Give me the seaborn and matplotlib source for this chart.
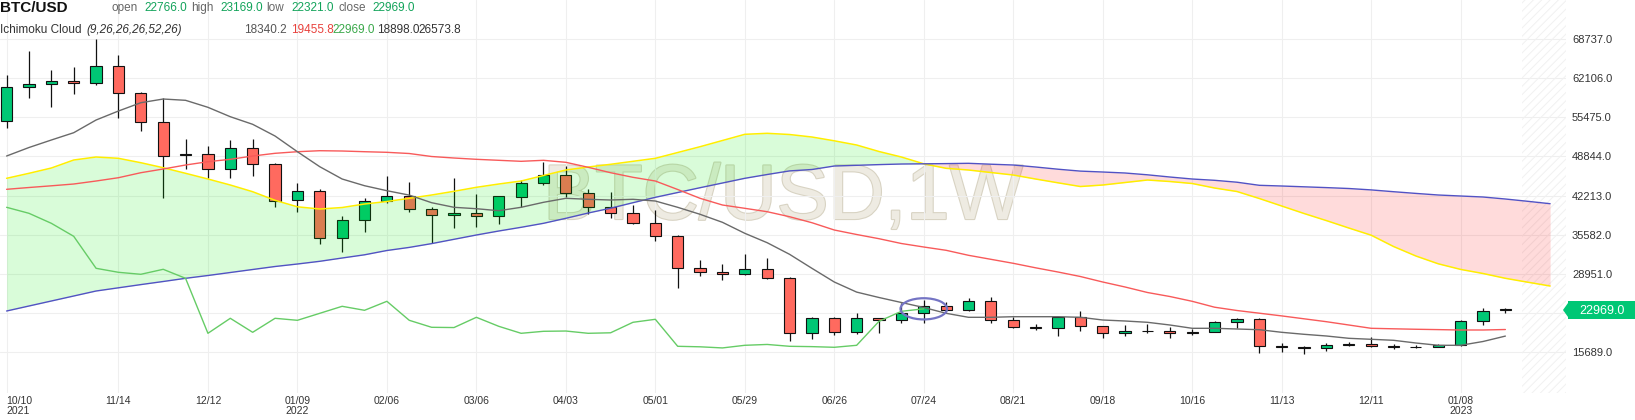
import numpy as np
import pandas as pd
import matplotlib
matplotlib.use("Agg")
import matplotlib.pyplot as plt
import seaborn as sns
from matplotlib.patches import Ellipse, Polygon
import matplotlib.patheffects as pe

# ---------------- data ----------------
weeks = pd.date_range("2021-10-10", periods=68, freq="7D")

opens = [54811, 60584, 61094, 61603, 61263, 64201, 59616, 54641, 49089, 49208,
         46661, 50226, 47510, 41397, 42925, 34944, 38001, 41227, 42076, 39869,
         38850, 39189, 38680, 41906, 44283, 45642, 42585, 40208, 39189, 37491,
         35284, 29850, 29171, 28832, 29681, 28152, 18813, 21360, 18983, 21360,
         21021, 22209, 23398, 22719, 24247, 21021, 19832, 19790, 21530, 20002,
         18813, 19153, 19153, 18990, 18983, 20681, 21191, 16606, 16440, 16266,
         16776, 16946, 16606, 16550, 16437, 16776, 20851, 22766]
highs = [62672, 66748, 63471, 63980, 68735, 66018, 59786, 58818, 51755, 50566,
         51585, 51755, 47680, 44283, 43265, 38680, 41736, 45574, 44453, 40209,
         45132, 42416, 42200, 44793, 47849, 47170, 43265, 42755, 40548, 39699,
         35500, 31209, 30530, 32228, 31548, 28322, 21632, 21632, 22209, 21450,
         23907, 24417, 24077, 24756, 24926, 21530, 20342, 21700, 22549, 20050,
         20172, 20342, 19832, 19493, 20851, 21360, 21360, 17115, 16606, 17115,
         17285, 18134, 16946, 16800, 16946, 21020, 23058, 23169]
lows = [53724, 58818, 57290, 59396, 60975, 55422, 53215, 41838, 46661, 45234,
        45234, 45472, 40310, 39461, 33926, 32669, 36065, 41000, 39359, 34095,
        36744, 36914, 37322, 40310, 43944, 41906, 39020, 38340, 37300, 34537,
        26454, 28492, 27813, 28662, 27983, 17455, 17795, 18474, 18644, 18813,
        20511, 20511, 22379, 22549, 20511, 19662, 19323, 18304, 19153, 17964,
        18304, 18813, 17964, 18474, 18950, 19662, 15417, 15587, 15247, 15757,
        16606, 16437, 16096, 16266, 16437, 16700, 20172, 22321]
closes = [60584, 61146, 61603, 61263, 64201, 59565, 54641, 48970, 49174, 46661,
          50226, 47510, 41329, 42925, 34944, 38001, 41227, 42076, 39869, 38850,
          39189, 38680, 42076, 44283, 45642, 42585, 40208, 39189, 37491, 35284,
          29850, 29171, 28832, 29681, 28152, 18813, 21360, 18983, 21360, 21021,
          22209, 23398, 22719, 24247, 21021, 19832, 19790, 21530, 20002, 18813,
          19153, 19200, 18813, 18900, 20681, 21191, 16606, 16520, 16330, 16776,
          16920, 16606, 16550, 16437, 16776, 20851, 22549, 22969]

# Ichimoku lines
tenkan = [48919, 50362, 51636, 52875, 55032, 56560, 57969, 58597, 58377, 57188,
          55592, 54302, 52315, 49649, 47102, 45013, 43876, 43027, 42280, 40989,
          40208, 39970, 39631, 40208, 41057, 41736, 41567, 41448, 41567, 41278,
          40208, 39020, 37661, 35793, 34197, 32228, 29850, 27524, 25810, 24892,
          24043, 23194, 22209, 21530, 21530, 21632, 21632, 21632, 21530, 21072,
          20902, 20681, 20223, 19662, 19662, 19544, 19425, 18983, 18644, 18355,
          17964, 17795, 17625, 17166, 16776, 16776, 17421, 18340]
kijun = [43265, 43570, 43859, 44164, 44674, 45234, 46083, 46711, 47391, 47951,
         48359, 48919, 49377, 49649, 49819, 49768, 49649, 49547, 49343, 48834,
         48579, 48359, 48189, 48019, 48189, 47849, 47000, 46083, 45302, 44674,
         43231, 41736, 40599, 40038, 39461, 38612, 37593, 36354, 35590, 34876,
         34061, 33467, 32907, 32058, 31379, 30699, 29935, 29222, 28458, 27524,
         26675, 25741, 25062, 24247, 23245, 22685, 22226, 21768, 21275, 20783,
         20223, 19662, 19577, 19500, 19440, 19374, 19374, 19456]
span_a = [45132, 45981, 46881, 48240, 48749, 48528, 47781, 46932, 45981, 45013,
          43995, 42857, 41397, 40293, 39919, 40174, 40768, 41193, 41736, 42297,
          42925, 43604, 44164, 44674, 45608, 46542, 47051, 47510, 48019, 48528,
          49513, 50498, 51551, 52604, 52773, 52570, 52145, 51500, 50787, 49683,
          48749, 47594, 46830, 46542, 46117, 45693, 45013, 44368, 43740, 43995,
          44419, 44844, 44589, 44249, 43485, 42891, 41702, 40429, 39155, 37950,
          36693, 35471, 33552, 31939, 30614, 29664, 28967, 28152, 27490, 26845]
span_b = [22600, 23449, 24298, 25147, 25996, 26539, 27083, 27609, 28152, 28628,
          29137, 29647, 30156, 30580, 31039, 31599, 32143, 32873, 33399, 34044,
          34775, 35505, 36184, 36812, 37491, 38340, 39240, 40055, 40989, 41906,
          42721, 43536, 44334, 45132, 45778, 46389, 46627, 47221, 47340, 47459,
          47560, 47594, 47628, 47679, 47527, 47391, 47051, 46678, 46355, 46202,
          46032, 45727, 45353, 45013, 44793, 44470, 43944, 43825, 43689, 43553,
          43400, 43163, 42857, 42568, 42297, 42127, 41957, 41617, 41227, 40819]

tick_dates = ["2021-10-10", "2021-11-14", "2021-12-12", "2022-01-09", "2022-02-06",
              "2022-03-06", "2022-04-03", "2022-05-01", "2022-05-29", "2022-06-26",
              "2022-07-24", "2022-08-21", "2022-09-18", "2022-10-16", "2022-11-13",
              "2022-12-11", "2023-01-08"]
tick_labels = ["10/10\n2021", "11/14", "12/12", "01/09\n2022", "02/06", "03/06",
               "04/03", "05/01", "05/29", "06/26", "07/24", "08/21", "09/18",
               "10/16", "11/13", "12/11", "01/08\n2023"]
y_ticks = [15689.0, 22320.0, 28951.0, 35582.0, 42213.0, 48844.0, 55475.0, 62106.0, 68737.0]
y_tick_labels = ["15689.0", "", "28951.0", "35582.0", "42213.0", "48844.0",
                 "55475.0", "62106.0", "68737.0"]

header_ohlc = [("open", "22766.0"), ("high", "23169.0"), ("low", "22321.0"), ("close", "22969.0")]
ichimoku_values = ["18340.2", "19455.8", "22969.0", "18898.0", "26573.8"]
last_price = "22969.0"
shift = 26

# ---------------- style ----------------
sns.set_theme(style="white")
plt.rcParams["font.family"] = ["Liberation Sans", "DejaVu Sans"]
plt.rcParams["hatch.linewidth"] = 0.7

W, H = 1635, 420
fig = plt.figure(figsize=(W / 100, H / 100), dpi=100)
fig.patch.set_facecolor("white")
ax = fig.add_axes([0, 27 / H, 1566 / W, 393 / H])
ax.set_facecolor("white")


def px(x, y):
    return (x / W, 1 - y / H)


idx = np.arange(len(weeks))
o = np.array(opens, float)
c = np.array(closes, float)
hgh = np.array(highs, float)
lw_ = np.array(lows, float)
GREEN = "#00c775"
RED = "#ff6a5f"

# watermark
wm = ax.text(*px(783, 219), "BTC/USD,1W", transform=fig.transFigure, ha="center",
             va="baseline", fontsize=56, color="#eeebe2", zorder=0.5)
wm.set_path_effects([pe.withStroke(linewidth=1.6, foreground="#d8d3c3")])

# hatched future area
ax.axvspan(67.74, 69.71, facecolor="none", edgecolor="#f1f1f1", hatch="////",
           linewidth=0, zorder=1)

# candles
ax.vlines(idx, lw_, hgh, color="#111111", linewidth=0.9, zorder=2)
body_bottom = np.minimum(o, c)
body_h = np.maximum(np.abs(c - o), 110)
colors = [GREEN if cc >= oo else RED for oo, cc in zip(o, c)]
ax.bar(idx, body_h, bottom=body_bottom, width=0.5, color=colors,
       edgecolor="#111111", linewidth=0.8, zorder=2.1)

# cloud
xa = np.arange(len(span_a))
A = np.array(span_a, float)
B = np.array(span_b, float)
ax.fill_between(xa, A, B, where=A >= B, interpolate=True, color=(0.0, 0.92, 0.0),
                alpha=0.15, linewidth=0, zorder=3)
ax.fill_between(xa, A, B, where=A < B, interpolate=True, color=(1.0, 0.0, 0.0),
                alpha=0.14, linewidth=0, zorder=3)

# lines (seaborn)
sns.lineplot(x=xa, y=A, ax=ax, color="#ffee00", linewidth=1.1, zorder=4, sort=False)
sns.lineplot(x=xa, y=B, ax=ax, color="#5252c4", linewidth=1.0, zorder=4, sort=False)
sns.lineplot(x=idx, y=kijun, ax=ax, color="#f85a5a", linewidth=1.0, zorder=4, sort=False)
sns.lineplot(x=idx, y=tenkan, ax=ax, color="#6a6a6a", linewidth=1.0, zorder=4, sort=False)
lag_x = idx[:len(closes) - shift]
lag_y = c[shift:]
sns.lineplot(x=lag_x, y=lag_y, ax=ax, color="#66cc66", linewidth=1.0, zorder=4, sort=False)

# highlight ellipse at last lagging point
ax.add_patch(Ellipse((lag_x[-1], lag_y[-1]), 2.08, 3600, fill=False,
                     edgecolor="#7474c4", linewidth=1.6, zorder=5))

# axes
ax.set_xlim(-0.295, 69.71)
ax.set_ylim(8676, 75411)
tick_pos = [weeks.get_loc(pd.Timestamp(d)) for d in tick_dates]
ax.set_xticks(tick_pos)
ax.set_xticklabels(tick_labels, fontsize=7.5, color="#333333", linespacing=1.0)
for lab in ax.get_xticklabels():
    lab.set_multialignment("center")
ax.get_xticklabels()[0].set_horizontalalignment("left")
ax.get_xticklabels()[0].set_multialignment("left")
ax.yaxis.tick_right()
ax.set_yticks(y_ticks)
ax.set_yticklabels(y_tick_labels, fontsize=8, color="#333333")
ax.tick_params(axis="both", length=0)
ax.tick_params(axis="x", pad=2.5)
ax.tick_params(axis="y", pad=4.3)
ax.grid(True, color="#efefef", linewidth=0.8)
ax.set_axisbelow(True)
for s in ax.spines.values():
    s.set_visible(False)
ax.set_xlabel("")
ax.set_ylabel("")

# last price label
poly_px = [(1563, 310), (1568, 303), (1568, 301), (1635, 301), (1635, 319),
           (1568, 319), (1568, 317)]
fig.patches.append(Polygon([px(x, y) for x, y in poly_px], closed=True,
                           transform=fig.transFigure, facecolor=GREEN,
                           edgecolor="none", zorder=5))
fig.text(*px(1601.5, 310.5), last_price, ha="center", va="center", fontsize=9,
         color="white", zorder=6)

# header
fig.text(*px(0, 12.3), "BTC/USD", ha="left", va="baseline", fontsize=11,
         fontweight="bold", color="#111111")
label_x = [111, 190.7, 266.7, 338.3]
value_x = [144, 220, 291, 372.7]
for (lab, val), lx, vx in zip(header_ohlc, label_x, value_x):
    fig.text(*px(lx, 11), lab, ha="left", va="baseline", fontsize=8.5, color="#666666")
    fig.text(*px(vx, 11), val, ha="left", va="baseline", fontsize=8.5, color="#12a35a")

fig.text(*px(0.5, 32.8), "Ichimoku Cloud", ha="left", va="baseline", fontsize=8.5,
         color="#333333")
fig.text(*px(86, 32.8), "(9,26,26,26,52,26)", ha="left", va="baseline", fontsize=8.5,
         color="#333333", fontstyle="italic")
val_x2 = [244, 290.7, 332.3, 376.7, 418.3]
val_c2 = ["#555555", "#e8413c", "#3aa84a", "#333333", "#333333"]
for v, vx, vc in zip(ichimoku_values, val_x2, val_c2):
    fig.text(*px(vx, 32.8), v, ha="left", va="baseline", fontsize=8.5, color=vc)

fig.savefig("out.png", dpi=100, facecolor="white")
